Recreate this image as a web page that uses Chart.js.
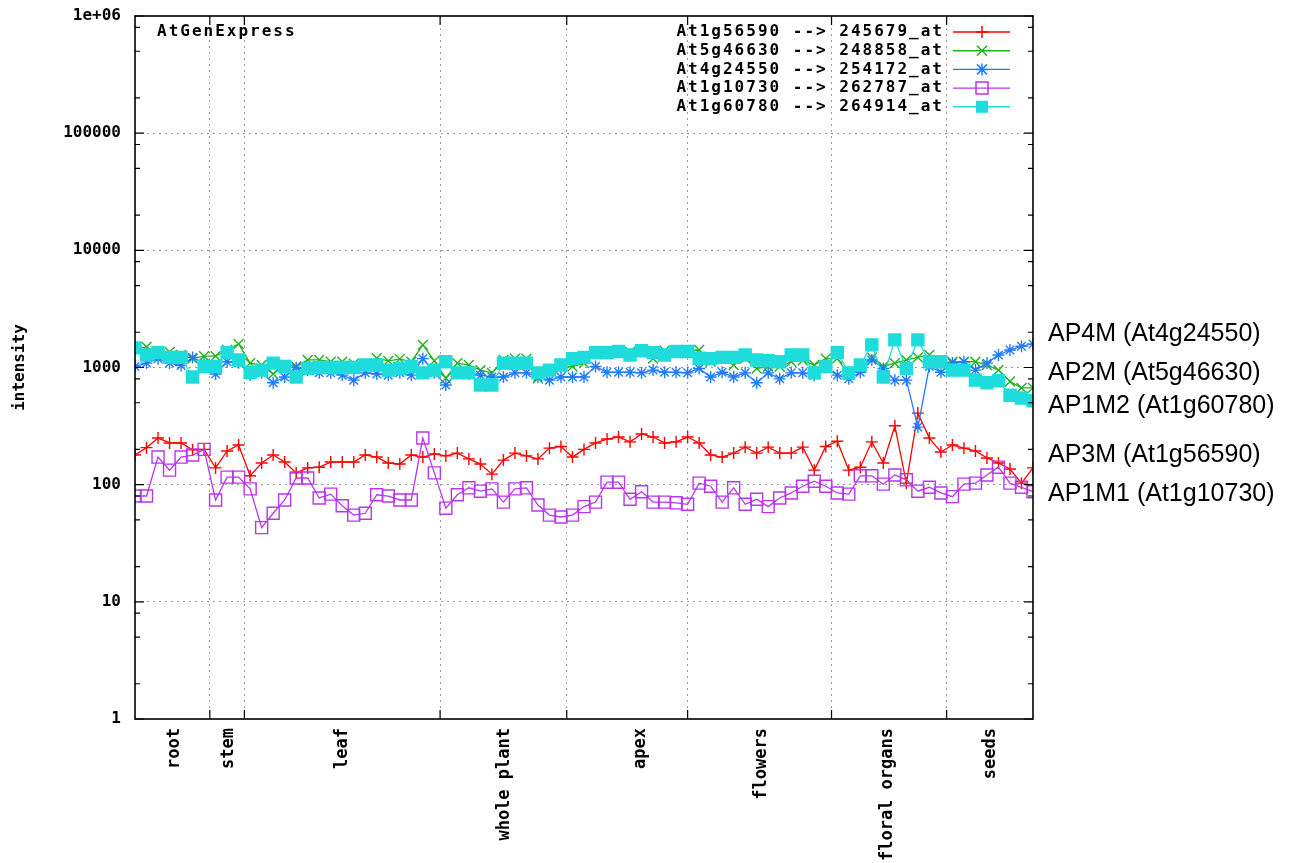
<!DOCTYPE html>
<html>
<head>
<meta charset="utf-8">
<script src="https://cdn.jsdelivr.net/npm/chart.js@4.4.1/dist/chart.umd.min.js"></script>
<style>
  html, body { margin: 0; padding: 0; background: #fff; }
  #wrap { width: 1296px; height: 863px; }
</style>
</head>
<body>
<div id="wrap"><canvas id="chart" width="1296" height="863"></canvas></div>
<script>
// tissue groups of the AtGenExpress developmental series (x = sample index 0..78)
const groupNames = ["root", "stem", "leaf", "whole plant", "apex", "flowers", "floral organs", "seeds"];
const groupCenters = [3.45, 8.15, 18, 32.1, 43.9, 54.4, 65.4, 74.3];
const groupBounds = [6.5, 9.5, 26.5, 37.5, 48, 60.5, 70.5];
const decadeTicks = [1, 10, 100, 1000, 10000, 100000, 1000000];

// At1g56590 -> 245679_at (AP3M)
const ap3m = [179, 207, 250, 227, 227, 198, 200, 139, 194, 218, 119, 153, 179, 156, 126, 139,
  141, 156, 156, 156, 179, 172, 153, 150, 179, 172, 183, 176, 186, 166, 150, 123,
  162, 186, 176, 166, 205, 212, 172, 200, 227, 245, 255, 232, 271, 255, 227, 232,
  255, 227, 179, 172, 186, 209, 186, 209, 186, 186, 209, 133, 212, 235, 133, 141,
  232, 153, 318, 103, 408, 250, 190, 218, 205, 194, 169, 153, 136, 103, 139];
// At5g46630 -> 248858_at (AP2M)
const ap2m = [1450, 1500, 1300, 1360, 1280, 1190, 1250, 1250, 1410, 1590, 1090, 1050, 880, 1050, 1020, 1160,
  1160, 1120, 1120, 1080, 1050, 1200, 1140, 1180, 1120, 1560, 1140, 810, 1090, 1050, 950, 900,
  1160, 1190, 1190, 810, 950, 1000, 1020, 1090, 1360, 1360, 1370, 1360, 1410, 1190, 1390, 1340,
  1400, 1410, 1120, 1190, 1050, 1200, 980, 1020, 1020, 1120, 1150, 1050, 1190, 1190, 870, 1000,
  1220, 1020, 1090, 1160, 1220, 1280, 1090, 1120, 1120, 1120, 1050, 950, 760, 670, 670];
// At4g24550 -> 254172_at (AP4M)
const ap4m = [1020, 1090, 1190, 1090, 1040, 1220, 1090, 880, 1120, 1100, 862, 900, 740, 830, 1000, 950,
  900, 900, 860, 780, 900, 880, 860, 900, 860, 1190, 900, 710, 900, 880, 860, 830,
  830, 900, 900, 830, 780, 830, 830, 830, 1020, 910, 910, 910, 900, 950, 910, 910,
  900, 980, 830, 910, 830, 900, 740, 900, 800, 900, 900, 860, 1000, 860, 800, 910,
  1160, 980, 780, 780, 310, 1020, 910, 1090, 1120, 950, 1090, 1280, 1410, 1520, 1590];
// At1g10730 -> 262787_at (AP1M1)
const ap1m1 = [80, 80, 172, 133, 172, 179, 200, 74, 116, 116, 92, 43, 57, 74, 114, 114,
  77, 83, 66, 55, 57, 82, 80, 74, 74, 250, 126, 63, 82, 94, 88, 92,
  71, 92, 94, 67, 55, 53, 55, 65, 71, 105, 105, 75, 87, 71, 71, 70,
  68, 103, 97, 71, 94, 68, 75, 65, 77, 85, 97, 107, 97, 85, 83, 119,
  119, 101, 121, 110, 88, 95, 85, 79, 101, 103, 121, 141, 103, 95, 87];
// At1g60780 -> 264914_at (AP1M2)
const ap1m2 = [1470, 1280, 1340, 1220, 1220, 830, 1020, 1020, 1340, 1160, 910, 950, 1090, 1020, 830, 980,
  1000, 1000, 1000, 1000, 1050, 1050, 950, 980, 1020, 900, 950, 1120, 900, 900, 710, 710,
  1090, 1090, 1090, 900, 950, 1050, 1190, 1220, 1340, 1340, 1370, 1280, 1390, 1340, 1280, 1370,
  1370, 1200, 1190, 1220, 1220, 1280, 1160, 1140, 1120, 1280, 1280, 900, 1020, 1340, 900, 1050,
  1560, 830, 1720, 980, 1720, 1120, 1120, 950, 950, 780, 740, 770, 580, 550, 520];

const seriesLabels = ["At1g56590 --> 245679_at", "At5g46630 --> 248858_at", "At4g24550 --> 254172_at",
  "At1g10730 --> 262787_at", "At1g60780 --> 264914_at"];
const sideLabels = ["AP4M (At4g24550)", "AP2M (At5g46630)", "AP1M2 (At1g60780)", "AP3M (At1g56590)", "AP1M1 (At1g10730)"];
const sideLabelLevels = [1930, 897, 469, 179, 83];

const colors = ["#ff0000", "#1db41d", "#1f7cff", "#b935ee", "#1fdcdc"];
const styles = ["cross", "crossRot", "star", "rectOpen", "rect"];
const monoFont = "'DejaVu Sans Mono', 'Liberation Mono', monospace";
const gridGray = "#9a9a9a";

function toPoints(vals) {
  return vals.map((v, i) => ({ x: i, y: v }));
}

function makeSet(k, vals, style, radius) {
  return {
    label: seriesLabels[k],
    data: toPoints(vals),
    borderColor: colors[k],
    backgroundColor: colors[k],
    pointBorderColor: colors[k],
    pointBackgroundColor: style === "rectOpen" ? "rgba(0,0,0,0)" : colors[k],
    pointStyle: style === "rectOpen" ? "rect" : style,
    pointRadius: radius,
    pointHoverRadius: radius,
    pointBorderWidth: 1.4,
    borderWidth: 1.3,
    tension: 0,
    fill: false,
    order: 5 - k,
  };
}

// little marker for the legend samples
function drawMarker(ctx, style, x, y, color) {
  ctx.save();
  ctx.strokeStyle = color;
  ctx.fillStyle = color;
  ctx.lineWidth = 1.5;
  ctx.beginPath();
  if (style === "cross" || style === "star") {
    ctx.moveTo(x - 6, y); ctx.lineTo(x + 6, y);
    ctx.moveTo(x, y - 6); ctx.lineTo(x, y + 6);
  }
  if (style === "crossRot" || style === "star") {
    ctx.moveTo(x - 5, y - 5); ctx.lineTo(x + 5, y + 5);
    ctx.moveTo(x - 5, y + 5); ctx.lineTo(x + 5, y - 5);
  }
  if (style === "rectOpen") {
    ctx.rect(x - 6, y - 6, 12, 12);
  }
  ctx.stroke();
  if (style === "rect") {
    ctx.fillRect(x - 6, y - 6, 12, 12);
  }
  ctx.restore();
}

const extras = {
  id: "extras",
  afterDraw(chart) {
    const ctx = chart.ctx;
    const a = chart.chartArea;
    const ys = chart.scales.y;
    const xs = chart.scales.x;
    ctx.save();

    // border frame
    ctx.strokeStyle = "#000";
    ctx.lineWidth = 1.6;
    ctx.strokeRect(a.left, a.top, a.right - a.left, a.bottom - a.top);

    // inward tics on left and right (major at decades, minor at 2,5,8)
    ctx.lineWidth = 1.2;
    ctx.beginPath();
    decadeTicks.forEach((d) => {
      const py = ys.getPixelForValue(d);
      ctx.moveTo(a.left, py); ctx.lineTo(a.left + 9, py);
      ctx.moveTo(a.right, py); ctx.lineTo(a.right - 9, py);
      if (d < 1e6) {
        [2, 5, 8].forEach((m) => {
          const my = ys.getPixelForValue(d * m);
          ctx.moveTo(a.left, my); ctx.lineTo(a.left + 5, my);
          ctx.moveTo(a.right, my); ctx.lineTo(a.right - 5, my);
        });
      }
    });
    // inward tics on top and bottom at group boundaries
    groupBounds.forEach((b) => {
      const px = xs.getPixelForValue(b);
      ctx.moveTo(px, a.bottom); ctx.lineTo(px, a.bottom - 9);
      ctx.moveTo(px, a.top); ctx.lineTo(px, a.top + 9);
    });
    ctx.stroke();

    // plot title inside the frame
    ctx.fillStyle = "#000";
    ctx.font = "bold 16px " + monoFont;
    ctx.letterSpacing = "2px";
    ctx.textBaseline = "middle";
    ctx.textAlign = "left";
    ctx.fillText("AtGenExpress", a.left + 22, a.top + 16);

    // key, top right
    ctx.textAlign = "right";
    seriesLabels.forEach((lab, k) => {
      const ly = a.top + 16 + k * 18.7;
      ctx.fillStyle = "#000";
      ctx.fillText(lab, a.right - 89, ly);
      ctx.strokeStyle = colors[k];
      ctx.lineWidth = 1.4;
      ctx.beginPath();
      ctx.moveTo(a.right - 80, ly);
      ctx.lineTo(a.right - 23, ly);
      ctx.stroke();
      drawMarker(ctx, styles[k], a.right - 51, ly, colors[k]);
    });

    // protein names at the right side
    ctx.letterSpacing = "0px";
    ctx.textAlign = "left";
    ctx.fillStyle = "#000";
    ctx.font = "25px 'Liberation Sans', Arial, sans-serif";
    sideLabels.forEach((lab, k) => {
      ctx.fillText(lab, a.right + 15, ys.getPixelForValue(sideLabelLevels[k]));
    });
    ctx.restore();
  },
};

const ctx = document.getElementById("chart").getContext("2d");
const myChart = new Chart(ctx, {
  type: "line",
  data: {
    datasets: [
      makeSet(0, ap3m, "cross", 6),
      makeSet(1, ap2m, "crossRot", 7),
      makeSet(2, ap4m, "star", 6),
      makeSet(3, ap1m1, "rectOpen", 8.5),
      makeSet(4, ap1m2, "rect", 8.5),
    ],
  },
  options: {
    responsive: false,
    animation: false,
    events: [],
    layout: {
      padding: { left: 0, right: 263, top: 16, bottom: 0 },
    },
    plugins: {
      legend: { display: false },
      tooltip: { enabled: false },
    },
    scales: {
      x: {
        type: "linear",
        min: 0,
        max: 78,
        afterBuildTicks: (scale) => {
          scale.ticks = groupBounds.concat(groupCenters).map((v) => ({ value: v }));
        },
        afterFit: (scale) => {
          scale.height = 144;
          scale.paddingLeft = 0;
          scale.paddingRight = 0;
        },
        grid: {
          color: (c) => (c.tick && groupBounds.includes(c.tick.value) ? gridGray : "rgba(0,0,0,0)"),
          lineWidth: 1,
          drawTicks: false,
        },
        border: { display: false, dash: [2, 4] },
        ticks: {
          autoSkip: false,
          minRotation: 90,
          maxRotation: 90,
          padding: 9,
          color: "#000",
          font: { family: monoFont, size: 17, weight: "bold" },
          callback: function (value) {
            const k = groupCenters.indexOf(value);
            return k >= 0 ? groupNames[k] : "";
          },
        },
      },
      y: {
        type: "logarithmic",
        min: 1,
        max: 1000000,
        afterBuildTicks: (scale) => {
          scale.ticks = decadeTicks.map((v) => ({ value: v }));
        },
        afterFit: (scale) => {
          scale.width = 135;
          scale.paddingTop = 0;
          scale.paddingBottom = 0;
        },
        grid: {
          color: (c) => (c.tick && (c.tick.value === 1 || c.tick.value === 1000000) ? "rgba(0,0,0,0)" : gridGray),
          lineWidth: 1,
          drawTicks: false,
        },
        border: { display: false, dash: [2, 4] },
        ticks: {
          padding: 14,
          color: "#000",
          font: { family: monoFont, size: 16, weight: "bold" },
          callback: function (value) {
            return value === 1000000 ? "1e+06" : String(value);
          },
        },
        title: {
          display: true,
          text: "intensity",
          color: "#000",
          font: { family: monoFont, size: 16, weight: "bold" },
          padding: { top: 10, bottom: 0 },
        },
      },
    },
  },
  plugins: [extras],
});
</script>
</body>
</html>
